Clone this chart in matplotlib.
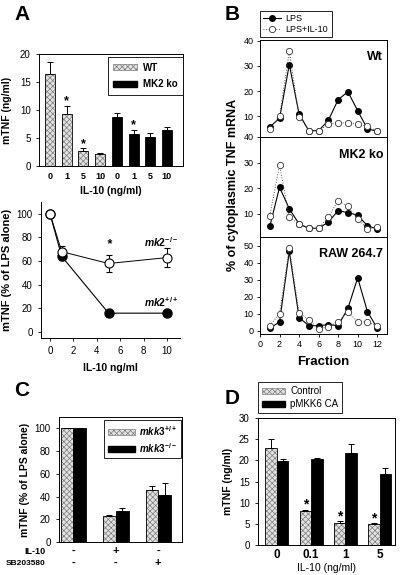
import numpy as np
import matplotlib
matplotlib.use('Agg')
import matplotlib.pyplot as plt
import matplotlib.transforms as mtransforms
from matplotlib.patches import Patch
from matplotlib.lines import Line2D

plt.rcParams['font.family'] = ['Liberation Sans', 'DejaVu Sans']
plt.rcParams['mathtext.fontset'] = 'custom'
plt.rcParams['mathtext.it'] = 'Liberation Sans:italic:bold'
plt.rcParams['mathtext.rm'] = 'Liberation Sans:bold'
plt.rcParams['mathtext.bf'] = 'Liberation Sans:bold'
plt.rcParams['hatch.linewidth'] = 0.5
plt.rcParams['axes.linewidth'] = 0.7
plt.rcParams['xtick.major.width'] = 0.6
plt.rcParams['ytick.major.width'] = 0.6
plt.rcParams['xtick.major.size'] = 2.5
plt.rcParams['ytick.major.size'] = 2.5
plt.rcParams['xtick.labelsize'] = 7
plt.rcParams['ytick.labelsize'] = 7

# ---- panel A, top: mTNF (ng/ml)
a_doses = ['0', '1', '5', '10']
a_wt = [16.5, 9.3, 2.7, 2.1]
a_wt_err = [2.0, 1.4, 0.5, 0.3]
a_ko = [8.8, 5.8, 5.2, 6.5]
a_ko_err = [0.6, 0.6, 0.7, 0.5]
a_star_wt = [None, 11.5, 3.9, None]
a_star_ko = [None, 7.3, None, None]

# ---- panel A, bottom: % of LPS alone
il10_conc = [0, 1, 5, 10]
mk2_ko_pct = [100, 68, 58, 63]
mk2_ko_err = [0, 5, 7, 8]
mk2_wt_pct = [100, 64, 16, 16]
mk2_wt_err = [0, 3, 0, 0]

# ---- panel B: % of cytoplasmic TNF mRNA per fraction
fractions = list(range(1, 13))
wt_lps = [5.8, 9.2, 30.5, 10.9, 4.3, 4.3, 8.4, 16.6, 19.7, 12.2, 5.0, 4.1]
wt_lps_il10 = [5.1, 10.0, 35.8, 9.8, 4.3, 4.3, 6.8, 7.4, 7.4, 6.8, 6.0, 4.1]
ko_lps = [5.1, 20.4, 12.0, 6.1, 4.4, 4.4, 6.8, 11.3, 10.5, 9.5, 5.4, 4.1]
ko_lps_il10 = [9.3, 29.1, 8.8, 6.1, 4.4, 4.4, 8.8, 15.2, 12.9, 8.2, 4.1, 4.9]
raw_lps = [1.4, 5.1, 46.6, 7.6, 2.9, 2.9, 3.5, 2.9, 13.1, 31.0, 11.1, 1.4]
raw_lps_il10 = [2.9, 9.9, 48.5, 10.3, 6.3, 1.0, 2.2, 5.3, 10.8, 5.3, 5.0, 2.9]

# ---- panel C: % of LPS alone
c_wt = [100, 22.5, 46]
c_wt_err = [0, 1.5, 3.5]
c_ko = [100, 27.5, 41]
c_ko_err = [0, 2.5, 11]
c_il10 = ['-', '+', '-']
c_sb = ['-', '-', '+']

# ---- panel D: mTNF (ng/ml)
d_doses = ['0', '0.1', '1', '5']
d_ctrl = [22.9, 8.0, 5.1, 4.9]
d_ctrl_err = [2.1, 0.2, 0.5, 0.4]
d_mkk6 = [19.9, 20.3, 21.7, 16.8]
d_mkk6_err = [0.4, 0.2, 2.2, 1.5]
d_star = [None, 9.5, 6.7, 6.3]

HATCH_FACE = '#e2e2e2'
HATCH_EDGE = '#7c7c7c'


def hatched_bar(ax, x, h, w):
    ax.bar(x, h, w, color=HATCH_FACE, hatch='xxxxxx', edgecolor=HATCH_EDGE, linewidth=0)
    ax.bar(x, h, w, fill=False, edgecolor='black', linewidth=0.6)


def up_err(ax, x, h, err):
    err = np.asarray(err, dtype=float)
    ax.errorbar(x, h, yerr=[np.zeros_like(err), err], fmt='none', ecolor='black',
                elinewidth=0.7, capsize=2, capthick=0.7)


def px_axes(fig, x0, y0, x1, y1):
    W, H = 400.0, 575.0
    return fig.add_axes([x0 / W, 1 - y1 / H, (x1 - x0) / W, (y1 - y0) / H])


fig = plt.figure(figsize=(4, 5.75), dpi=100)
hatch_handle = Patch(facecolor=HATCH_FACE, hatch='xxxxxx', edgecolor=HATCH_EDGE, linewidth=0.5)
black_handle = Patch(facecolor='black', edgecolor='black')

# ================= A top
ax = px_axes(fig, 39, 54, 183, 166)
xw = np.arange(4)
xk = np.arange(4, 8)
hatched_bar(ax, xw, a_wt, 0.6)
up_err(ax, xw, a_wt, a_wt_err)
ax.bar(xk, a_ko, 0.6, color='black', edgecolor='black', linewidth=0.6)
up_err(ax, xk, a_ko, a_ko_err)
for i, s in enumerate(a_star_wt):
    if s is not None:
        ax.text(xw[i], s, '*', ha='center', va='center', fontsize=9, fontweight='bold')
for i, s in enumerate(a_star_ko):
    if s is not None:
        ax.text(xk[i], s, '*', ha='center', va='center', fontsize=9, fontweight='bold')
ax.set_xlim(-0.66, 7.96)
ax.set_ylim(0, 20)
ax.set_yticks([0, 5, 10, 15, 20])
ax.set_xticks(np.arange(8))
ax.set_xticklabels(a_doses + a_doses, fontweight='bold', fontsize=6.5)
ax.tick_params(axis='x', length=0, pad=4)
ax.set_xlabel('IL-10 (ng/ml)', fontweight='bold', fontsize=7.5, labelpad=4)
ax.set_ylabel('mTNF (ng/ml)', fontweight='bold', fontsize=7.5, labelpad=6)
leg = ax.legend([hatch_handle, black_handle], ['WT', 'MK2 ko'], loc='upper right',
                bbox_to_anchor=(1.0, 0.975), borderaxespad=0,
                prop={'weight': 'bold', 'size': 7}, handlelength=2.4, handleheight=0.6,
                fancybox=False, edgecolor='black', framealpha=1, borderpad=0.6,
                labelspacing=0.7, handletextpad=0.6)
leg.get_frame().set_linewidth(0.6)

# ================= A bottom
ax = px_axes(fig, 41, 202, 180, 338)
ax.plot(il10_conc, mk2_wt_pct, '-', color='black', lw=0.8, zorder=2)
ax.errorbar(il10_conc, mk2_wt_pct, yerr=mk2_wt_err, fmt='o', color='black',
            mfc='black', mec='black', ms=6.5, elinewidth=0.7, capsize=2, zorder=3)
ax.plot(il10_conc, mk2_ko_pct, '-', color='black', lw=0.7, zorder=4)
ax.errorbar(il10_conc, mk2_ko_pct, yerr=mk2_ko_err, fmt='o', color='black',
            mfc='white', mec='black', ms=6.5, mew=0.8, elinewidth=0.7, capsize=2, zorder=5)
ax.text(5, 74, '*', ha='center', va='center', fontsize=9, fontweight='bold', style='italic')
ax.text(9.5, 76, r'$\mathit{mk2}^{-/-}$', ha='center', va='center', fontsize=7.5)
ax.text(9.5, 25, r'$\mathit{mk2}^{+/+}$', ha='center', va='center', fontsize=7.5)
ax.set_xlim(-0.77, 11.1)
ax.set_ylim(-5, 110)
ax.set_xticks([0, 2, 4, 6, 8, 10])
ax.set_yticks([0, 20, 40, 60, 80, 100])
ax.spines['top'].set_visible(False)
ax.spines['right'].set_visible(False)
ax.set_xlabel('IL-10 ng/ml', fontweight='bold', fontsize=7.5, labelpad=5)
ax.set_ylabel('mTNF (% of LPS alone)', fontweight='bold', fontsize=8, labelpad=3)

# ================= B
b_rows = [
    ((40, 137), (1.8, 40.2), [10, 20, 30, 40], wt_lps, wt_lps_il10, 'Wt'),
    ((137, 237), (1.0, 40.0), [10, 20, 30, 40], ko_lps, ko_lps_il10, 'MK2 ko'),
    ((237, 334), (-2.0, 55.0), [0, 10, 20, 30, 40, 50], raw_lps, raw_lps_il10, 'RAW 264.7'),
]
for k, ((y0, y1), ylim, yt, lps, lps_il, name) in enumerate(b_rows):
    ax = px_axes(fig, 260, y0, 387, y1)
    ax.plot(fractions, lps, '-o', color='black', lw=0.8, ms=4, mfc='black', mec='black', zorder=3)
    ax.plot(fractions, lps_il, ':o', color='#555555', lw=0.7, ms=4.5, mfc='white',
            mec='#333333', mew=0.6, zorder=4)
    ax.set_xlim(0, 13)
    ax.set_ylim(*ylim)
    ax.set_yticks(yt)
    ax.tick_params(labelsize=6.5, pad=2)
    ax.text(0.97, 0.82, name, transform=ax.transAxes, ha='right', va='center',
            fontsize=9, fontweight='bold')
    if k < 2:
        ax.set_xticks([])
    else:
        ax.set_xticks([0, 2, 4, 6, 8, 10, 12])
        ax.set_xlabel('Fraction', fontweight='bold', fontsize=9.5, labelpad=5)
fig.text(233 / 400, 1 - 185 / 575, '% of cytoplasmic TNF mRNA', rotation=90,
         ha='center', va='center', fontsize=9, fontweight='bold')
b_handles = [Line2D([], [], color='black', lw=0.8, marker='o', ms=4, mfc='black'),
             Line2D([], [], color='#555555', lw=0.7, ls=':', marker='o', ms=4.5, mfc='white',
                    mec='#333333', mew=0.6)]
leg = fig.legend(b_handles, ['LPS', 'LPS+IL-10'], loc='lower left',
                 bbox_to_anchor=(260 / 400, 1 - 37 / 575), borderaxespad=0, fontsize=6.5,
                 handlelength=2.0, fancybox=False, edgecolor='black', framealpha=1,
                 borderpad=0.35, labelspacing=0.2, handletextpad=0.5)
leg.get_frame().set_linewidth(0.6)

# ================= C
ax = px_axes(fig, 59, 417, 182, 542)
xc = np.arange(3)
hatched_bar(ax, xc - 0.15, c_wt, 0.3)
up_err(ax, xc - 0.15, c_wt, c_wt_err)
ax.bar(xc + 0.15, c_ko, 0.3, color='black', edgecolor='black', linewidth=0.6)
up_err(ax, xc + 0.15, c_ko, c_ko_err)
ax.set_xlim(-0.34, 2.56)
ax.set_ylim(0, 110)
ax.set_yticks([0, 20, 40, 60, 80, 100])
ax.set_xticks([])
ax.set_ylabel('mTNF (% of LPS alone)', fontsize=7.5, fontweight='bold', labelpad=3)
trans = mtransforms.blended_transform_factory(ax.transData, ax.transAxes)
for i in range(3):
    ax.text(xc[i], -0.075, c_il10[i], transform=trans, ha='center', va='center',
            fontsize=8, fontweight='bold')
    ax.text(xc[i], -0.17, c_sb[i], transform=trans, ha='center', va='center',
            fontsize=8, fontweight='bold')
ax.text(-0.11, -0.075, 'IL-10', transform=ax.transAxes, ha='right', va='center',
        fontsize=6.5, fontweight='bold')
ax.text(-0.11, -0.17, 'SB203580', transform=ax.transAxes, ha='right', va='center',
        fontsize=6, fontweight='bold')
leg = ax.legend([hatch_handle, black_handle], [r'$mkk3^{+/+}$', r'$mkk3^{-/-}$'],
                loc='upper right', bbox_to_anchor=(0.99, 0.975), borderaxespad=0,
                fontsize=7, handlelength=2.8, handleheight=0.6, fancybox=False,
                edgecolor='black', framealpha=1, borderpad=0.4, labelspacing=0.3,
                handletextpad=0.4)
leg.get_frame().set_linewidth(0.6)

# ================= D
ax = px_axes(fig, 258, 418, 395, 545)
xd = np.arange(4)
hatched_bar(ax, xd - 0.17, d_ctrl, 0.335)
up_err(ax, xd - 0.17, d_ctrl, d_ctrl_err)
ax.bar(xd + 0.17, d_mkk6, 0.335, color='black', edgecolor='black', linewidth=0.6)
up_err(ax, xd + 0.17, d_mkk6, d_mkk6_err)
for i, s in enumerate(d_star):
    if s is not None:
        ax.text(xd[i] - 0.17, s, '*', ha='center', va='center', fontsize=10, fontweight='bold')
ax.set_xlim(-0.55, 3.45)
ax.set_ylim(0, 30)
ax.set_yticks([0, 5, 10, 15, 20, 25, 30])
ax.set_xticks(xd)
ax.set_xticklabels(d_doses, fontweight='bold', fontsize=8.5)
ax.tick_params(axis='x', length=0, pad=3)
ax.set_xlabel('IL-10 (ng/ml)', fontsize=7.5, labelpad=1)
ax.set_ylabel('mTNF (ng/ml)', fontweight='bold', fontsize=7.5, labelpad=4)
leg = fig.legend([hatch_handle, black_handle], ['Control', 'pMKK6 CA'], loc='lower left',
                 bbox_to_anchor=(258 / 400, 1 - 413 / 575), borderaxespad=0, fontsize=7,
                 handlelength=2.4, handleheight=0.6, fancybox=False, edgecolor='black',
                 framealpha=1, borderpad=0.4, labelspacing=0.3, handletextpad=0.5)
leg.get_frame().set_linewidth(0.6)

# panel letters
for letter, (px, py) in {'A': (22, 14), 'B': (232, 14), 'C': (22, 391), 'D': (232, 399)}.items():
    fig.text(px / 400, 1 - py / 575, letter, ha='center', va='center',
             fontsize=15, fontweight='bold')

fig.savefig('out.png', dpi=100)
